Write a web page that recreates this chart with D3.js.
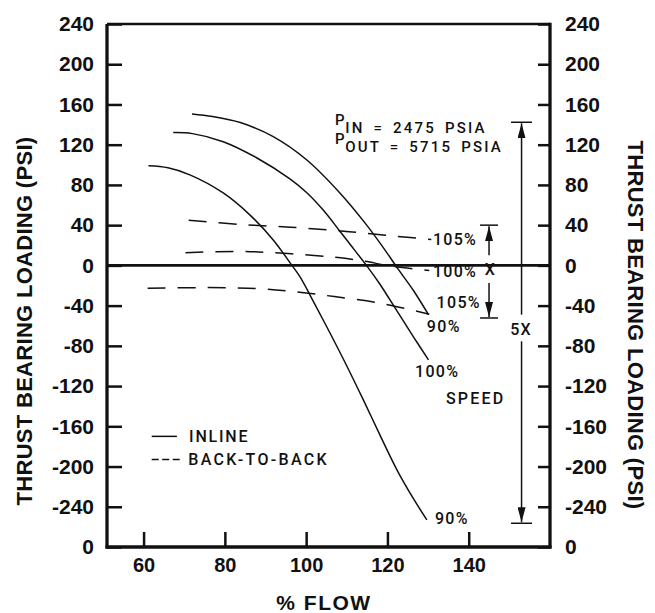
<!DOCTYPE html>
<html>
<head>
<meta charset="utf-8">
<script src="https://cdn.jsdelivr.net/npm/d3@7"></script>
<style>
  body { margin: 0; background: #fff; }
  svg { display: block; }
  text { font-family: "Liberation Sans", Arial, sans-serif; fill: #111; }
  .tick text { font-weight: bold; }
  .note { font-family: Roboto, "Liberation Sans", sans-serif; font-weight: 500; }
</style>
</head>
<body>
<div id="chart"></div>
<script>
/*
 * Thrust bearing loading vs % flow
 */

// flow (%) and loading (psi)
var inline90Flow  = [61.2, 66, 71.4, 79.6, 86.2, 91.9, 96.5, 98.5, 101.8, 105.9, 110, 114.1, 118.2, 122.3, 126.4, 129.7];
var inline90Load  = [99, 97, 90, 72, 50, 25.3, 0, -11.5, -36, -67.5, -100, -134, -169, -203, -232, -253];
var inline100Flow = [67.3, 72, 79.6, 87.8, 96, 100.1, 104.2, 108.3, 110.8, 115.2, 118.2, 122.3, 126.4, 130.1];
var inline100Load = [132, 131, 123, 107, 86, 72.5, 55, 34, 21, -2, -19, -45, -71, -94];
var inlineTopFlow = [71.9, 77, 83.8, 91.9, 100.1, 108.3, 114.9, 119.8, 122.5, 126.4, 130.1];
var inlineTopLoad = [150.5, 148, 142, 128, 105, 72, 40, 13, -3, -25, -49];

var btb105Flow = [71.1, 83.8, 96.2, 106.9, 113.5, 122, 130.8];
var btb105Load = [44.9, 40.7, 38, 34.7, 32.4, 29, 25.8];
var btb100Flow = [70.3, 83.8, 92.1, 102, 108.5, 114.5, 120.9, 130.3];
var btb100Load = [12.6, 13.9, 12.6, 9.9, 7.6, 4, -0.7, -5];
var btbLowFlow = [61, 75.6, 88, 97.8, 106.9, 118.4, 130.3];
var btbLowLoad = [-22.8, -22.1, -23.1, -26.5, -31, -37.7, -48.6];

var xTickValues = [60, 80, 100, 120, 140];
var yTickValues = [240, 200, 160, 120, 80, 40, 0, -40, -80, -120, -160, -200, -240, -280];
var yTickLabels = ["240", "200", "160", "120", "80", "40", "0", "-40", "-80", "-120", "-160", "-200", "-240", "0"];

// speed labels at the curve ends, and other notes
var noteText = ["105%", "100%", "105%", "90%", "100%", "SPEED", "90%", "5X"];
var noteFlow = [131.2, 131.2, 132.1, 129.7, 126.8, 134.4, 131.7, 150.2];
var noteLoad = [20, -11.5, -42.4, -66.2, -111, -138.3, -257.6, -69.7];

var width = 655;
var height = 613;

var x = d3.scaleLinear().domain([51, 160]).range([107, 550]);
var y = d3.scaleLinear().domain([-280, 240]).range([547, 24]);

var svg = d3.select('#chart')
    .append('svg')
    .attr('width', width)
    .attr('height', height);

// axes
var yFmt = function (d) { return yTickLabels[yTickValues.indexOf(d)]; };

var leftAxis = svg.append('g')
    .attr('transform', 'translate(' + x(51) + ',0)')
    .call(d3.axisLeft(y).tickValues(yTickValues).tickFormat(yFmt)
        .tickSizeInner(-15).tickSizeOuter(0).tickPadding(13));

var rightAxis = svg.append('g')
    .attr('transform', 'translate(' + x(160) + ',0)')
    .call(d3.axisRight(y).tickValues(yTickValues).tickFormat(yFmt)
        .tickSizeInner(-12).tickSizeOuter(0).tickPadding(15));

var bottomAxis = svg.append('g')
    .attr('transform', 'translate(0,' + y(-280) + ')')
    .call(d3.axisBottom(x).tickValues(xTickValues)
        .tickSizeInner(-15).tickSizeOuter(0).tickPadding(11));

[leftAxis, rightAxis, bottomAxis].forEach(function (g) {
    g.select('.domain').remove();
    g.selectAll('.tick line').attr('stroke', '#111').attr('stroke-width', 2.5);
    g.selectAll('.tick text').attr('fill', '#111');
});
leftAxis.selectAll('.tick text').style('font-size', '21px');
rightAxis.selectAll('.tick text').style('font-size', '21px');
bottomAxis.selectAll('.tick text').style('font-size', '20px');

// frame + zero line
var frame = svg.append('g').attr('stroke', '#111').attr('fill', 'none');
frame.append('line').attr('x1', x(51)).attr('x2', x(51)).attr('y1', y(240)).attr('y2', y(-280) + 1.5).attr('stroke-width', 3.3);
frame.append('line').attr('x1', x(160)).attr('x2', x(160)).attr('y1', y(240) - 1.3).attr('y2', y(-280) + 1.5).attr('stroke-width', 3.3);
frame.append('line').attr('x1', x(51) - 1.5).attr('x2', x(160) + 1.5).attr('y1', y(-280)).attr('y2', y(-280)).attr('stroke-width', 3.3);
frame.append('line').attr('x1', x(51)).attr('x2', x(160)).attr('y1', y(240)).attr('y2', y(240)).attr('stroke-width', 2.7);
frame.append('line').attr('x1', x(51)).attr('x2', x(160)).attr('y1', y(0)).attr('y2', y(0)).attr('stroke-width', 2.7);

// curves
var line = d3.line()
    .x(function (d) { return x(d[0]); })
    .y(function (d) { return y(d[1]); })
    .curve(d3.curveCatmullRom.alpha(0.5));

function pairs(a, b) { return a.map(function (v, i) { return [v, b[i]]; }); }

var series = [
    { pts: pairs(inline90Flow, inline90Load), dash: null },
    { pts: pairs(inline100Flow, inline100Load), dash: null },
    { pts: pairs(inlineTopFlow, inlineTopLoad), dash: null },
    { pts: pairs(btb105Flow, btb105Load), dash: '18,12' },
    { pts: pairs(btb100Flow, btb100Load), dash: '18,12' },
    { pts: pairs(btbLowFlow, btbLowLoad), dash: '18,12' }
];

svg.append('g').selectAll('path')
    .data(series)
    .enter()
    .append('path')
    .attr('d', function (d) { return line(d.pts); })
    .attr('fill', 'none')
    .attr('stroke', '#111')
    .attr('stroke-width', 1.5)
    .attr('stroke-dasharray', function (d) { return d.dash; });

// notes
svg.append('g').selectAll('text')
    .data(noteText)
    .enter()
    .append('text')
    .attr('class', 'note')
    .attr('x', function (d, i) { return x(noteFlow[i]); })
    .attr('y', function (d, i) { return y(noteLoad[i]); })
    .style('font-size', '16px')
    .style('letter-spacing', function (d) { return d === 'SPEED' ? '2.2px' : '1.3px'; })
    .text(function (d) { return d; });

svg.append('text')
    .attr('class', 'note')
    .attr('x', x(145.2))
    .attr('y', y(-10))
    .attr('text-anchor', 'middle')
    .style('font-size', '16px')
    .text('X');

// pressure note
var pNote = [["IN = 2475 PSIA", 131.6], ["OUT = 5715 PSIA", 112.7]];
pNote.forEach(function (p) {
    var t = svg.append('text')
        .attr('class', 'note')
        .attr('x', x(107.1))
        .attr('y', y(p[1]))
        .style('font-size', '15px')
        .style('letter-spacing', '2.2px')
        .style('word-spacing', '3px');
    t.append('tspan').attr('dy', -8).text('P');
    t.append('tspan').attr('dy', 8).attr('dx', -1.5).text(p[0]);
});

// dimension arrows
svg.append('defs').append('marker')
    .attr('id', 'head')
    .attr('viewBox', '0 0 15 8')
    .attr('refX', 15).attr('refY', 4)
    .attr('markerWidth', 15).attr('markerHeight', 8)
    .attr('markerUnits', 'userSpaceOnUse')
    .attr('orient', 'auto')
    .append('path')
    .attr('d', 'M0,0 L15,4 L0,8 Z')
    .attr('fill', '#111');

var arrows = [
    // flow, top, bottom, gapTop, gapBottom, bar half width
    { f: 145, top: 40, bot: -52.3, g1: 10, g2: -17.5, hw: 9 },
    { f: 153, top: 142.3, bot: -256.4, g1: -49, g2: -75.5, hw: 10.5 }
];
var ag = svg.append('g').attr('stroke', '#111').attr('stroke-width', 1.5);
arrows.forEach(function (a) {
    ag.append('line').attr('x1', x(a.f) - a.hw).attr('x2', x(a.f) + a.hw)
        .attr('y1', y(a.top)).attr('y2', y(a.top));
    ag.append('line').attr('x1', x(a.f) - a.hw).attr('x2', x(a.f) + a.hw)
        .attr('y1', y(a.bot)).attr('y2', y(a.bot));
    ag.append('line').attr('x1', x(a.f)).attr('x2', x(a.f))
        .attr('y1', y(a.g1)).attr('y2', y(a.top) + 1)
        .attr('marker-end', 'url(#head)');
    ag.append('line').attr('x1', x(a.f)).attr('x2', x(a.f))
        .attr('y1', y(a.g2)).attr('y2', y(a.bot) - 1)
        .attr('marker-end', 'url(#head)');
});

// legend
var legend = svg.append('g');
legend.append('line')
    .attr('x1', x(62)).attr('x2', x(68.2)).attr('y1', y(-170)).attr('y2', y(-170))
    .attr('stroke', '#111').attr('stroke-width', 1.5);
legend.append('line')
    .attr('x1', x(62)).attr('x2', x(69)).attr('y1', y(-193)).attr('y2', y(-193))
    .attr('stroke', '#111').attr('stroke-width', 1.5).attr('stroke-dasharray', '7,3.5');
legend.append('text').attr('class', 'note')
    .attr('x', x(71.2)).attr('y', y(-175.5))
    .style('font-size', '16px').style('letter-spacing', '1.8px')
    .text('INLINE');
legend.append('text').attr('class', 'note')
    .attr('x', x(71)).attr('y', y(-198.5))
    .style('font-size', '16px').style('letter-spacing', '2.3px')
    .text('BACK-TO-BACK');

// axis titles
svg.append('text')
    .attr('x', 324).attr('y', 610)
    .attr('text-anchor', 'middle')
    .style('font-size', '21px').style('font-weight', 'bold').style('letter-spacing', '1.5px')
    .text('% FLOW');

svg.append('text')
    .attr('transform', 'translate(24,321) rotate(-90)')
    .attr('text-anchor', 'middle').attr('dy', '0.36em')
    .style('font-size', '22px').style('font-weight', 'bold').style('letter-spacing', '0.3px')
    .text('THRUST BEARING LOADING (PSI)');

svg.append('text')
    .attr('transform', 'translate(636,325) rotate(90)')
    .attr('text-anchor', 'middle').attr('dy', '0.36em')
    .style('font-size', '22px').style('font-weight', 'bold').style('letter-spacing', '0.3px')
    .text('THRUST BEARING LOADING (PSI)');
</script>
</body>
</html>
